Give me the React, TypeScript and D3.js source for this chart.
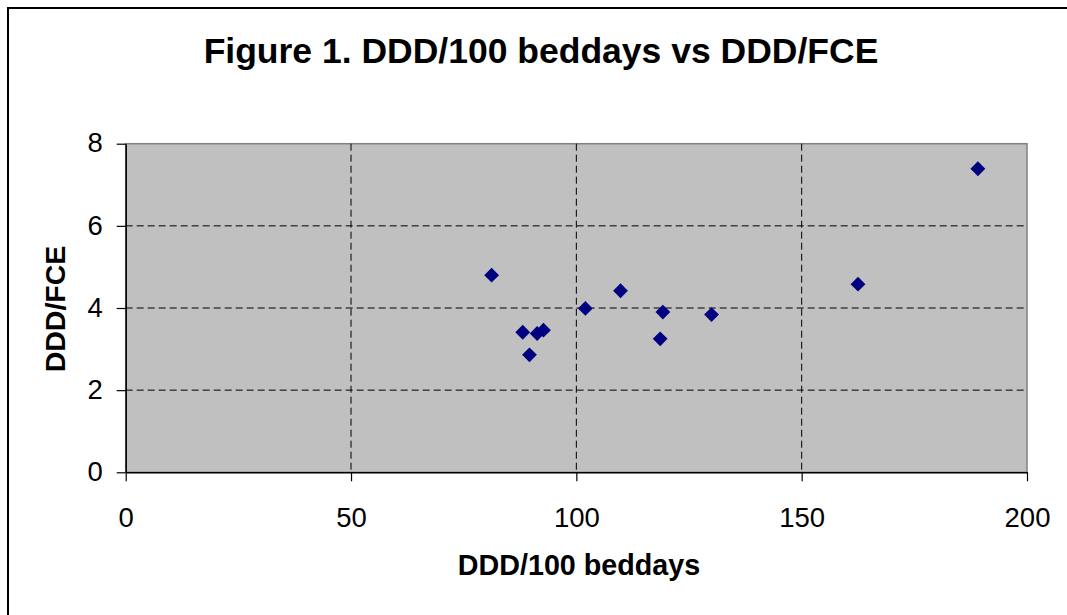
import { useEffect, useRef } from 'react';
import * as d3 from 'd3';

// values
const xValues = [81.2, 88.1, 91.3, 92.7, 89.6, 102.0, 109.8, 119.2, 118.6, 130.0, 162.5, 189.1];
const yValues = [4.8, 3.41, 3.38, 3.46, 2.86, 3.99, 4.42, 3.9, 3.25, 3.84, 4.58, 7.39];
const xTicks = [0, 50, 100, 150, 200];
const yTicks = [0, 2, 4, 6, 8];

const title = 'Figure 1. DDD/100 beddays vs DDD/FCE';
const xTitle = 'DDD/100 beddays';
const yTitle = 'DDD/FCE';

export default function App() {
  const ref = useRef<SVGSVGElement>(null);

  useEffect(() => {
    if (!ref.current) return;
    const svg = d3.select(ref.current);
    svg.selectAll('*').remove();

    const W = 1067;
    const H = 615;
    const left = 125.7, right = 1027, top = 143.7, bottom = 472.3;
    const font = 'Liberation Sans, Arial, sans-serif';

    svg.append('rect').attr('width', W).attr('height', H).attr('fill', '#fff');

    // outer chart frame (runs past the right and bottom edges)
    svg.append('rect')
      .attr('x', 8).attr('y', 8)
      .attr('width', W).attr('height', H)
      .attr('fill', 'none').attr('stroke', '#000').attr('stroke-width', 2);

    const x = d3.scaleLinear().domain([0, 200]).range([left, right]);
    const y = d3.scaleLinear().domain([0, 8]).range([bottom, top]);

    // plot area
    svg.append('rect')
      .attr('x', left).attr('y', top)
      .attr('width', right - left).attr('height', bottom - top)
      .attr('fill', '#c0c0c0')
      .attr('stroke', '#808080').attr('stroke-width', 1.5);

    // gridlines
    const grid = svg.append('g')
      .attr('stroke', '#000').attr('stroke-width', 1).attr('stroke-dasharray', '7,4');
    xTicks.filter(t => t > 0 && t < 200).forEach(t => {
      grid.append('line')
        .attr('x1', x(t)).attr('x2', x(t)).attr('y1', top).attr('y2', bottom);
    });
    yTicks.filter(t => t > 0 && t < 8).forEach(t => {
      grid.append('line')
        .attr('x1', left).attr('x2', right).attr('y1', y(t)).attr('y2', y(t));
    });

    // axes
    const xAxis = svg.append('g')
      .attr('transform', `translate(0,${bottom})`)
      .call(d3.axisBottom(x).tickValues(xTicks).tickSize(9).tickPadding(26).tickSizeOuter(0));
    const yAxis = svg.append('g')
      .attr('transform', `translate(${left},0)`)
      .call(d3.axisLeft(y).tickValues(yTicks).tickSize(9).tickPadding(14).tickSizeOuter(0));

    [xAxis, yAxis].forEach(a => {
      a.select('.domain').attr('stroke', '#000').attr('stroke-width', 1.5);
      a.selectAll('.tick line').attr('stroke', '#000').attr('stroke-width', 1.2);
      a.selectAll('.tick text')
        .attr('fill', '#000')
        .style('font-family', font)
        .style('font-size', '27.5px');
    });
    yAxis.selectAll('.tick text').attr('dy', '0.3em');

    // points
    const diamond = d3.symbol().type(d3.symbolDiamond2).size(140);
    svg.append('g')
      .selectAll('path')
      .data(xValues.map((v, i) => [v, yValues[i]]))
      .enter()
      .append('path')
      .attr('d', diamond)
      .attr('transform', d => `translate(${x(d[0])},${y(d[1])})`)
      .attr('fill', '#000080');

    // titles
    svg.append('text')
      .attr('x', 541).attr('y', 62.7)
      .attr('text-anchor', 'middle')
      .style('font-family', font).style('font-size', '35.5px').style('font-weight', 'bold')
      .text(title);

    svg.append('text')
      .attr('x', 579).attr('y', 575)
      .attr('text-anchor', 'middle')
      .style('font-family', font).style('font-size', '28.7px').style('font-weight', 'bold')
      .text(xTitle);

    svg.append('text')
      .attr('transform', `translate(65,309) rotate(-90)`)
      .attr('text-anchor', 'middle')
      .style('font-family', font).style('font-size', '28.5px').style('font-weight', 'bold')
      .text(yTitle);
  }, []);

  return (
    <svg
      ref={ref}
      width={1067}
      height={615}
      style={{ position: 'absolute', left: 0, top: 0, display: 'block' }}
    />
  );
}
